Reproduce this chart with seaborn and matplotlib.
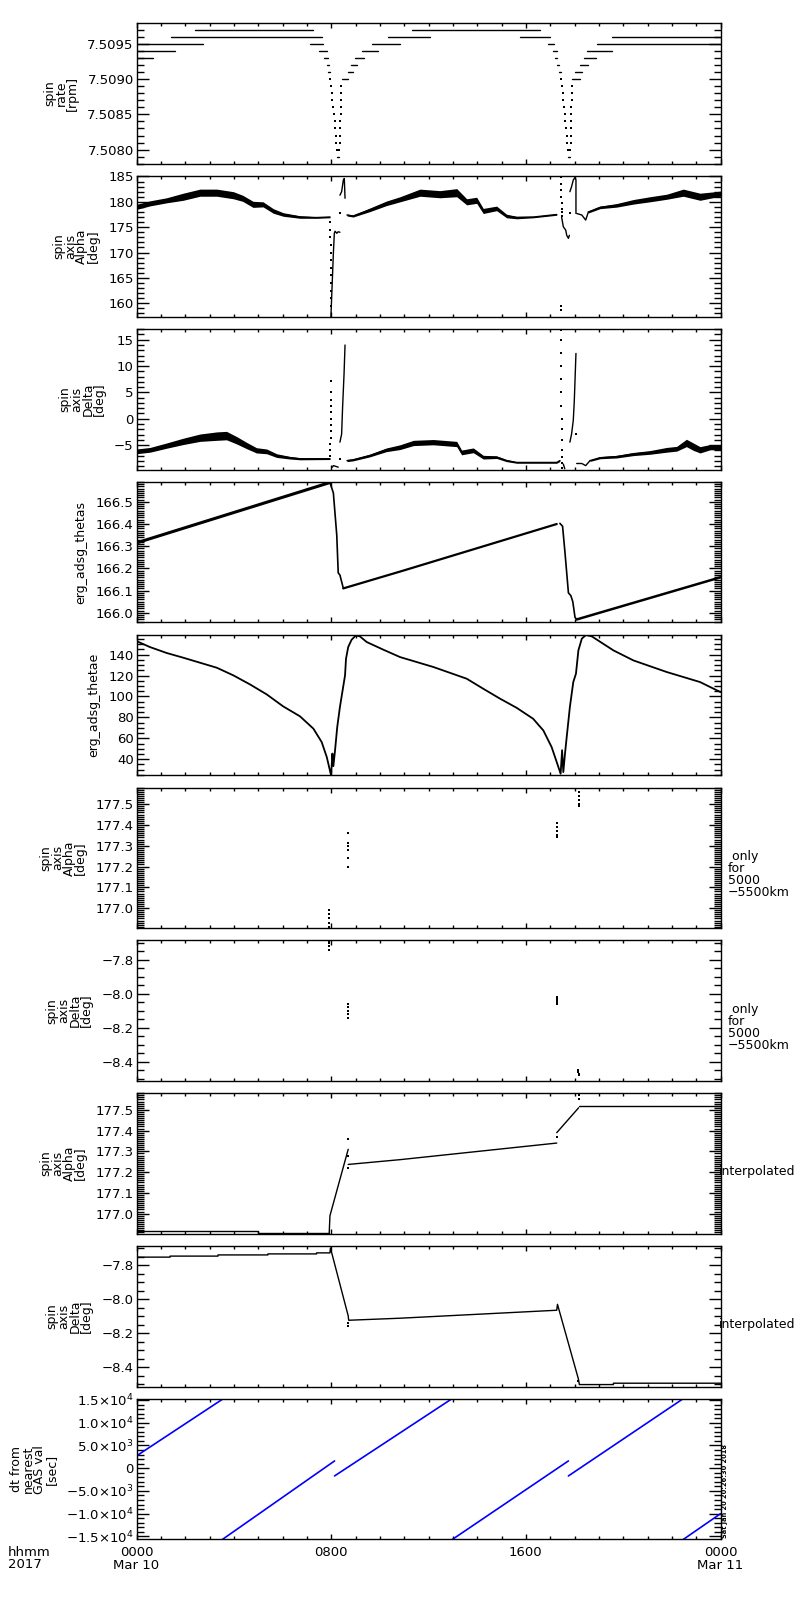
import numpy as np
import pandas as pd
import matplotlib
matplotlib.use('Agg')
import matplotlib.pyplot as plt
from matplotlib.ticker import MultipleLocator, FuncFormatter, FixedLocator
import seaborn as sns


# =========================================================
# DATA (time in hours from 2017-03-10 00:00)
# =========================================================

# --- spin rate [rpm]: quantised levels drawn as short runs ---
rate_seg_t0 = [0.0, 0.0, 0.0, 1.42, 2.40, 7.13, 7.51, 7.72, 7.82, 7.88,
               8.25,
               8.43, 8.70, 8.81, 8.98, 9.28, 9.66, 10.35, 11.33, 15.76,
               16.92, 17.10, 17.20, 17.27, 17.35,
               17.75,
               17.88, 18.02, 18.23, 18.40, 18.53, 18.91, 19.54]
rate_seg_t1 = [0.68, 1.60, 2.74, 7.61, 7.24, 7.68, 7.82, 7.88, 7.92, 7.95,
               8.33,
               8.70, 8.91, 9.05, 9.36, 9.94, 10.83, 12.07, 16.58, 16.99,
               17.16, 17.27, 17.29, 17.37, 17.43,
               17.82,
               18.23, 18.30, 18.57, 18.87, 19.53, 24.0, 24.0]
rate_seg_val = [7.5093, 7.5094, 7.5095, 7.5096, 7.5097, 7.5095, 7.5094,
                7.5093, 7.5092, 7.5091,
                7.5079,
                7.5090, 7.5091, 7.5092, 7.5093, 7.5094, 7.5095, 7.5096,
                7.5097, 7.5096,
                7.5095, 7.5094, 7.5093, 7.5092, 7.5091,
                7.5079,
                7.5090, 7.5091, 7.5092, 7.5093, 7.5094, 7.5095, 7.5096]

rate_dot_t = [7.97, 7.99, 8.02, 8.05, 8.09, 8.11, 8.14, 8.16, 8.19, 8.21, 8.23,
              8.34, 8.36, 8.37, 8.38, 8.38, 8.39, 8.39, 8.41, 8.41, 8.42,
              17.45, 17.48, 17.51, 17.54, 17.57, 17.60, 17.63, 17.66, 17.69,
              17.71, 17.73,
              17.83, 17.84, 17.85, 17.86, 17.86, 17.87, 17.87, 17.88, 17.88,
              17.89]
rate_dot_v = [7.5090, 7.5089, 7.5088, 7.5087, 7.5086, 7.5085, 7.5084, 7.5083,
              7.5082, 7.5081, 7.5080,
              7.5080, 7.5081, 7.5082, 7.5083, 7.5084, 7.5085, 7.5086, 7.5087,
              7.5088, 7.5089,
              7.5090, 7.5089, 7.5088, 7.5087, 7.5086, 7.5085, 7.5084, 7.5083,
              7.5082, 7.5081, 7.5080,
              7.5080, 7.5081, 7.5082, 7.5083, 7.5084, 7.5085, 7.5086, 7.5087,
              7.5088, 7.5089]

# --- spin axis Alpha [deg] (GAS) : noisy band centre / half width ---
alpha_band_t = [
    [0.0, 0.56, 1.24, 1.92, 2.61, 3.30, 3.98, 4.36, 4.79, 5.20, 5.62, 6.03,
     6.72, 7.40, 7.95],
    [8.65, 8.90, 9.58, 10.27, 10.83, 11.65, 12.47, 13.16, 13.57, 13.98,
     14.25, 14.80, 15.21, 15.62, 16.31, 17.27],
    [18.57, 19.05, 19.73, 20.42, 21.10, 21.79, 22.47, 23.16, 24.0],
]
alpha_band_c = [
    [179.0, 179.7, 180.3, 181.0, 181.8, 181.8, 181.3, 180.7, 179.5, 179.5,
     178.2, 177.5, 177.0, 176.9, 177.0],
    [177.4, 177.2, 178.4, 179.7, 180.5, 181.8, 181.5, 181.8, 180.0, 180.3,
     178.2, 178.7, 177.2, 176.9, 177.0, 177.5],
    [178.0, 178.9, 179.3, 180.0, 180.5, 181.0, 181.8, 181.0, 181.6],
]
alpha_band_hw = [
    [0.5, 0.5, 0.5, 0.7, 0.7, 0.7, 0.7, 0.6, 0.6, 0.5, 0.45, 0.35, 0.25, 0.15,
     0.15],
    [0.2, 0.2, 0.35, 0.45, 0.5, 0.7, 0.7, 0.8, 0.6, 0.6, 0.5, 0.45, 0.35,
     0.25, 0.15, 0.15],
    [0.2, 0.25, 0.35, 0.45, 0.5, 0.5, 0.7, 0.7, 0.5],
]
alpha_lines_t = [
    [7.99, 8.09, 8.13, 8.16, 8.23, 8.29, 8.36],
    [8.36, 8.43, 8.50, 8.54, 8.57],
    [17.47, 17.54, 17.64, 17.68, 17.75, 17.79],
    [17.81, 17.88, 17.95, 18.02, 18.06, 18.06],
    [18.09, 18.30, 18.46, 18.57],
]
alpha_lines_v = [
    [157.4, 169.8, 173.8, 174.2, 173.8, 174.1, 174.0],
    [181.3, 182.0, 184.3, 184.6, 180.7],
    [177.0, 175.1, 174.4, 173.4, 172.8, 173.4],
    [182.0, 183.0, 184.3, 184.8, 184.3, 177.7],
    [177.7, 177.4, 176.4, 178.0],
]
alpha_dot_t = [7.96, 7.97, 7.97, 7.98, 7.98, 7.98, 7.99, 7.99, 7.99, 8.00,
               8.00, 8.00, 8.36,
               17.44, 17.45, 17.46, 17.46, 17.47, 17.47, 17.48, 17.48, 17.81,
               17.43, 17.43]
alpha_dot_v = [176.0, 174.5, 173.0, 171.5, 170.0, 168.5, 167.0, 165.5, 164.0,
               162.5, 161.0, 159.5, 177.7,
               184.9, 183.6, 182.3, 181.0, 179.8, 178.6, 178.0, 177.3, 177.7,
               158.7, 159.5]

# --- spin axis Delta [deg] (GAS) ---
delta_band_t = [
    [0.0, 0.56, 1.24, 1.92, 2.61, 3.30, 3.70, 4.12, 4.53, 4.93, 5.35, 5.76,
     6.30, 6.72, 7.95],
    [8.65, 8.90, 9.58, 10.27, 10.83, 11.38, 12.20, 13.16, 13.36, 13.84,
     14.25, 14.80, 15.21, 15.62, 17.27, 17.40],
    [18.64, 19.05, 19.73, 20.42, 21.10, 21.79, 22.20, 22.60, 22.88, 23.16,
     23.57, 24.0],
]
delta_band_c = [
    [-6.2, -5.9, -5.1, -4.3, -3.6, -3.3, -3.2, -4.1, -5.1, -6.0, -6.2, -7.0,
     -7.4, -7.6, -7.6],
    [-7.95, -7.8, -7.0, -5.9, -5.4, -4.6, -4.45, -4.8, -6.4, -6.0, -7.3,
     -7.3, -7.95, -8.3, -8.3, -7.95],
    [-7.95, -7.4, -7.2, -6.7, -6.4, -5.9, -5.7, -4.6, -5.3, -5.9, -5.4, -5.4],
]
delta_band_hw = [
    [0.45, 0.45, 0.5, 0.6, 0.7, 0.8, 0.8, 0.7, 0.6, 0.5, 0.45, 0.35, 0.25,
     0.2, 0.15],
    [0.2, 0.2, 0.25, 0.35, 0.45, 0.5, 0.5, 0.5, 0.45, 0.45, 0.35, 0.25, 0.2,
     0.15, 0.15, 0.15],
    [0.15, 0.2, 0.25, 0.3, 0.35, 0.45, 0.45, 0.7, 0.7, 0.6, 0.5, 0.5],
]
delta_lines_t = [
    [8.05, 8.09, 8.16, 8.29],
    [8.36, 8.43, 8.47, 8.53, 8.57],
    [18.09, 18.30, 18.46, 18.64],
    [17.54, 17.60],
    [17.81, 17.88, 17.95, 17.99, 18.06],
]
delta_lines_v = [
    [-9.2, -8.9, -9.0, -9.2],
    [-4.45, -2.9, 2.2, 8.6, 14.0],
    [-8.5, -8.5, -8.9, -7.95],
    [-8.6, -9.5],
    [-4.45, -2.9, -0.3, 3.2, 12.4],
]
delta_dot_t = [7.96, 7.97, 7.97, 7.98, 7.98, 7.99, 7.99, 8.00, 8.00, 8.01,
               8.01, 8.01, 8.36,
               17.43, 17.44, 17.44, 17.45, 17.45, 17.46, 17.46, 17.47, 17.47,
               17.48, 17.48, 17.49, 17.49, 17.50, 18.06]
delta_dot_v = [-7.0, -6.0, -4.8, -3.6, -2.4, -1.2, 0.0, 1.2, 2.4, 3.6, 5.0,
               7.2, -7.6,
               16.9, 15.0, 12.5, 10.0, 7.5, 5.0, 2.5, 0.0, -2.0, -4.0, -6.0,
               -7.2, -8.4, -9.3, -2.9]

# --- erg_adsg_thetas ---
thetas_t = [
    [0.0, 7.95],
    [7.95, 8.09, 8.23, 8.29, 8.36, 8.43, 8.50],
    [8.50, 10.96, 17.27],
    [17.40, 17.51, 17.61, 17.75, 17.85, 17.93, 18.02, 18.09],
    [18.09, 24.0],
]
thetas_v = [
    [166.315, 166.587],
    [166.587, 166.54, 166.35, 166.18, 166.17, 166.14, 166.11],
    [166.11, 166.19, 166.40],
    [166.403, 166.39, 166.27, 166.09, 166.077, 166.05, 165.98, 165.97],
    [165.97, 166.16],
]
thetas_lw = [2.2, 1.2, 1.6, 1.2, 1.8]

# --- erg_adsg_thetae ---
thetae_t = [0.0, 0.55, 1.24, 1.92, 2.61, 3.30, 3.98, 4.66, 5.35, 6.03, 6.72,
            7.27, 7.61, 7.82, 7.98, 8.00, 8.05, 8.09, 8.16, 8.25, 8.36, 8.47,
            8.57, 8.61, 8.70, 8.84, 9.02, 9.18, 9.46, 10.14, 10.83, 12.20,
            13.57, 14.25, 14.94, 15.62, 16.30, 16.72, 17.06, 17.27, 17.43,
            17.49, 17.54, 17.61, 17.68, 17.81, 17.95, 18.06, 18.16, 18.30,
            18.47, 18.71, 19.60, 20.42, 21.79, 23.16, 24.0]
thetae_v = [153.0, 147.3, 141.6, 137.1, 132.3, 127.5, 120.2, 111.6, 102.0,
            90.5, 81.0, 69.2, 56.4, 42.0, 26.1, 25.2, 45.4, 33.3, 48.6, 70.9,
            89.9, 105.8, 120.2, 136.1, 147.3, 154.3, 158.5, 157.5, 152.1,
            144.8, 137.7, 128.2, 117.0, 107.4, 97.9, 89.2, 78.7, 67.5, 51.6,
            37.2, 26.1, 48.6, 27.7, 45.4, 61.3, 89.9, 113.8, 121.8, 144.1,
            155.3, 158.8, 157.5, 144.1, 134.5, 123.4, 113.8, 104.2]

# --- Alpha / Delta only for 5000-5500 km (dots) ---
alpha_alt_t = [7.91, 7.91, 7.91, 7.91, 7.91,
               8.70, 8.70, 8.70, 8.70, 8.70, 8.70,
               17.27, 17.27, 17.27, 17.27, 17.27,
               18.17, 18.17, 18.17, 18.17, 18.17, 18.17]
alpha_alt_v = [176.99, 176.97, 176.95, 176.93, 176.91,
               177.36, 177.315, 177.30, 177.28, 177.24, 177.20,
               177.41, 177.39, 177.37, 177.35, 177.34,
               177.58, 177.56, 177.54, 177.52, 177.50, 177.49]
delta_alt_t = [7.92, 7.92, 7.92, 7.93,
               8.70, 8.70, 8.70, 8.70, 8.70,
               17.27, 17.27, 17.27, 17.27, 17.27,
               18.16, 18.16, 18.17, 18.17]
delta_alt_v = [-7.69, -7.70, -7.72, -7.74,
               -8.06, -8.08, -8.10, -8.12, -8.14,
               -8.02, -8.03, -8.04, -8.05, -8.06,
               -8.45, -8.46, -8.47, -8.48]

# --- Alpha / Delta interpolated ---
alpha_int_t = [
    [0.0, 5.0, 5.0, 7.92],
    [7.92, 7.95, 8.70],
    [8.70, 10.83, 17.27],
    [17.27, 18.17],
    [18.17, 24.0],
]
alpha_int_v = [
    [176.914, 176.914, 176.907, 176.907],
    [176.907, 176.99, 177.31],
    [177.237, 177.26, 177.34],
    [177.39, 177.51],
    [177.519, 177.519],
]
alpha_int_dot_t = [8.70, 8.70, 8.70, 17.27, 18.17, 18.17, 18.17]
alpha_int_dot_v = [177.36, 177.28, 177.22, 177.37, 177.55, 177.57, 177.58]

delta_int_t = [0.0, 1.38, 1.38, 3.35, 3.35, 5.40, 5.40, 7.40, 7.40, 7.95,
               7.97, 8.70, 8.72, 10.83, 17.27, 17.30, 18.16, 18.20, 19.60,
               19.60, 24.0]
delta_int_v = [-7.751, -7.751, -7.745, -7.745, -7.738, -7.738, -7.732,
               -7.732, -7.726, -7.726, -7.697, -8.097, -8.123, -8.111,
               -8.064, -8.029, -8.469, -8.502, -8.502, -8.494, -8.494]
delta_int_dot_t = [8.70, 8.70, 18.16]
delta_int_dot_v = [-8.14, -8.156, -8.48]

# --- dt from nearest GAS val [sec] ---
dt_t = [[0.0, 3.55], [3.53, 8.14], [8.14, 12.95], [12.98, 17.75],
        [17.75, 22.45], [22.47, 24.0]]
dt_v = [[2700, 15220], [-15660, 1600], [-1700, 15220], [-15660, 1600],
        [-1700, 15220], [-15660, -10000]]

# --- axis text ---
x_ticks = [0, 8, 16, 24]
x_tick_labels = ['0000\nMar 10', '0800', '1600', '0000\nMar 11']
dt_ticks = [-15000, -10000, -5000, 0, 5000, 10000, 15000]
dt_tick_labels = [r'$-1.5{\times}10^{4}$', r'$-1.0{\times}10^{4}$',
                  r'$-5.0{\times}10^{3}$', '0', r'$5.0{\times}10^{3}$',
                  r'$1.0{\times}10^{4}$', r'$1.5{\times}10^{4}$']

panel_labels = ['spin\nrate\n[rpm]', 'spin\naxis\nAlpha\n[deg]',
                'spin\naxis\nDelta\n[deg]', 'erg_adsg_thetas',
                'erg_adsg_thetae', 'spin\naxis\nAlpha\n[deg]',
                'spin\naxis\nDelta\n[deg]', 'spin\naxis\nAlpha\n[deg]',
                'spin\naxis\nDelta\n[deg]', 'dt from\nnearest\nGAS val\n[sec]']
panel_ylims = [(7.50780, 7.50979), (157.36, 185.06), (-9.64, 17.04),
               (165.957, 166.59), (24.7, 159.1), (176.904, 177.58),
               (-8.512, -7.686), (176.903, 177.58), (-8.514, -7.686),
               (-15660, 15220)]
panel_major = [0.0005, 5, 5, 0.1, 20, 0.1, 0.2, 0.1, 0.2, 5000]
panel_minor = [0.0001, 1, 1, 0.01, 5, 0.01, 0.05, 0.01, 0.05, 1000]
panel_fmt = ['{:.4f}', '{:.0f}', '{:.0f}', '{:.1f}', '{:.0f}', '{:.1f}',
             '{:.1f}', '{:.1f}', '{:.1f}', None]


# =========================================================
# STYLE
# =========================================================

sns.set_theme(style='ticks', rc={
    'axes.edgecolor': 'black',
    'axes.linewidth': 1.0,
    'xtick.color': 'black',
    'ytick.color': 'black',
    'text.color': 'black',
    'axes.labelcolor': 'black',
})
plt.rcParams['font.family'] = ['DejaVu Sans']

TICK_SIZE = 9.5
LABEL_SIZE = 9


def draw_line(ax, t, v, lw=1.0, color='black'):
    sns.lineplot(x=t, y=v, ax=ax, color=color, lw=lw,
                 estimator=None, sort=False)


def draw_dots(ax, t, v):
    sns.scatterplot(x=t, y=v, ax=ax, color='black', s=2.5, marker='s',
                    linewidth=0)


def draw_band(ax, t, c, hw):
    c = np.array(c)
    hw = np.array(hw)
    ax.fill_between(t, c - hw, c + hw, color='black', lw=0)
    draw_line(ax, t, c, lw=1.0)


def style_axis(ax, i):
    ax.set_xlim(0, 24)
    ax.set_ylim(*panel_ylims[i])
    ax.xaxis.set_major_locator(FixedLocator(x_ticks))
    ax.xaxis.set_minor_locator(MultipleLocator(1))
    ax.yaxis.set_major_locator(MultipleLocator(panel_major[i]))
    ax.yaxis.set_minor_locator(MultipleLocator(panel_minor[i]))

    ax.tick_params(axis='both', which='both', direction='in',
                   top=True, right=True, width=1.0, labelsize=TICK_SIZE)
    ax.tick_params(axis='y', which='major', length=8.5, pad=2)
    ax.tick_params(axis='y', which='minor', length=5)
    ax.tick_params(axis='x', which='major', length=3.5, pad=5)
    ax.tick_params(axis='x', which='minor', length=2)

    if panel_fmt[i] is not None:
        fmt = panel_fmt[i]
        ax.yaxis.set_major_formatter(FuncFormatter(
            lambda v, p, f=fmt: f.format(v).replace('-', '\u2212')))

    ax.set_ylabel(panel_labels[i], fontsize=LABEL_SIZE, linespacing=0.85,
                  labelpad=6)
    for side in ax.spines.values():
        side.set_visible(True)
        side.set_linewidth(1.0)
    ax.set_xlabel('')


# =========================================================
# FIGURE
# =========================================================

fig = plt.figure(figsize=(8, 16), dpi=100)

axes = []
for i in range(10):
    top_px = 23.3 + 152.85 * i
    h_px = 140.5
    ax = fig.add_axes([136.5 / 800, 1 - (top_px + h_px) / 1600,
                       584 / 800, h_px / 1600])
    axes.append(ax)

# panel 1 - spin rate
rate_df = pd.DataFrame({
    't': rate_seg_t0 + rate_seg_t1,
    'v': rate_seg_val + rate_seg_val,
    'seg': list(range(len(rate_seg_t0))) * 2,
})
sns.lineplot(data=rate_df, x='t', y='v', units='seg', estimator=None,
             color='black', lw=1.0, ax=axes[0])
draw_dots(axes[0], rate_dot_t, rate_dot_v)

# panel 2 - alpha
for t, c, hw in zip(alpha_band_t, alpha_band_c, alpha_band_hw):
    draw_band(axes[1], t, c, hw)
for t, v in zip(alpha_lines_t, alpha_lines_v):
    draw_line(axes[1], t, v)
draw_dots(axes[1], alpha_dot_t, alpha_dot_v)

# panel 3 - delta
for t, c, hw in zip(delta_band_t, delta_band_c, delta_band_hw):
    draw_band(axes[2], t, c, hw)
for t, v in zip(delta_lines_t, delta_lines_v):
    draw_line(axes[2], t, v)
draw_dots(axes[2], delta_dot_t, delta_dot_v)

# panel 4 - thetas
for t, v, lw in zip(thetas_t, thetas_v, thetas_lw):
    draw_line(axes[3], t, v, lw=lw)

# panel 5 - thetae
draw_line(axes[4], thetae_t, thetae_v, lw=1.3)

# panel 6 / 7 - altitude restricted
draw_dots(axes[5], alpha_alt_t, alpha_alt_v)
draw_dots(axes[6], delta_alt_t, delta_alt_v)

# panel 8 / 9 - interpolated
for t, v in zip(alpha_int_t, alpha_int_v):
    draw_line(axes[7], t, v)
draw_dots(axes[7], alpha_int_dot_t, alpha_int_dot_v)
draw_line(axes[8], delta_int_t, delta_int_v)
draw_dots(axes[8], delta_int_dot_t, delta_int_dot_v)

# panel 10 - dt
for t, v in zip(dt_t, dt_v):
    draw_line(axes[9], t, v, lw=1.2, color='#0000ff')

for i, ax in enumerate(axes):
    style_axis(ax, i)
    if i < 9:
        ax.set_xticklabels([])

axes[9].yaxis.set_major_locator(FixedLocator(dt_ticks))
axes[9].set_yticklabels(dt_tick_labels)
axes[9].set_xticklabels(x_tick_labels, linespacing=0.95)

# right-hand notes
for i in (5, 6):
    axes[i].text(1.012, 0.555, ' only\nfor\n5000\n\u22125500km',
                 transform=axes[i].transAxes, ha='left', va='top',
                 fontsize=9, linespacing=0.9)
for i in (7, 8):
    axes[i].text(0.998, 0.44, 'interpolated', transform=axes[i].transAxes,
                 ha='left', va='center', fontsize=9)

fig.text(8 / 800, 1 - 1546 / 1600, 'hhmm\n2017', ha='left', va='top',
         fontsize=TICK_SIZE, linespacing=0.95)
fig.text(722 / 800, 1 - 1538 / 1600, 'Sat Jan 20 20:26:30 2018',
         rotation=90, ha='left', va='bottom', fontsize=4.8,
         fontweight='bold')

fig.savefig('out.png', dpi=100, facecolor='white')
